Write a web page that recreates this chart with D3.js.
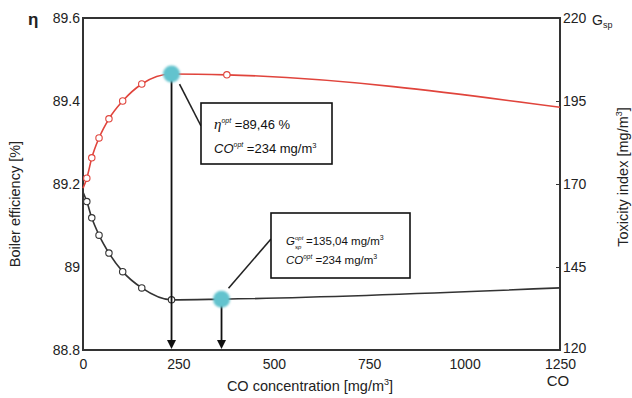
<!DOCTYPE html>
<html>
<head>
<meta charset="utf-8">
<script src="https://cdn.jsdelivr.net/npm/d3@7"></script>
<style>
    body { margin: 0; background: #fff; }
    svg { font-family: "Liberation Sans", Arial, sans-serif; }
    .tick text { font-size: 14px; fill: #222; }
    .note { fill: #111; }
</style>
</head>
<body>
<div id="chart"></div>
<script>
// boiler efficiency curve (left axis)
const coEta = [0, 10, 23, 42, 68, 104, 154, 232, 377, 1250];
const etaValues = [89.19, 89.214, 89.263, 89.311, 89.357, 89.40, 89.441, 89.465, 89.463, 89.385];
// toxicity index curve (right axis)
const coTox = [0, 10, 23, 42, 68, 104, 154, 232, 363, 1250];
const toxValues = [167.6, 164.7, 159.8, 154.6, 149.2, 143.6, 138.7, 135.1, 135.3, 138.7];
// which points get the small open markers / the big optimum marker
const etaMarkers = [1, 2, 3, 4, 5, 6, 8];
const toxMarkers = [1, 2, 3, 4, 5, 6, 7];
const etaOpt = 7;
const toxOpt = 8;

const xTicks = [0, 250, 500, 750, 1000, 1250];
const etaTicks = [88.8, 89, 89.2, 89.4, 89.6];
const toxTicks = [120, 145, 170, 195, 220];

const W = 632, H = 398;
const M = { left: 83, right: 560, top: 18, bottom: 350 };
const RED = '#e0443c';
const DARK = '#333';
const CYAN = '#62c3ce';

const svg = d3.select('#chart').append('svg')
    .attr('width', W).attr('height', H);

const defs = svg.append('defs');
defs.append('filter').attr('id', 'soft')
    .append('feGaussianBlur').attr('stdDeviation', 0.9);

const x = d3.scaleLinear().domain([0, 1250]).range([M.left, M.right]);
const yL = d3.scaleLinear().domain([88.8, 89.6]).range([M.bottom, M.top]);
const yR = d3.scaleLinear().domain([120, 220]).range([M.bottom, M.top]);

// axes
const gx = svg.append('g')
    .attr('transform', 'translate(0,' + M.bottom + ')')
    .call(d3.axisBottom(x).tickValues(xTicks).tickSize(0).tickPadding(9).tickFormat(d3.format('d')));
gx.select('.domain').remove();

const gl = svg.append('g')
    .attr('transform', 'translate(' + M.left + ',0)')
    .call(d3.axisLeft(yL).tickValues(etaTicks).tickSize(0).tickPadding(3)
        .tickFormat(d => d === 89 ? '89' : d3.format('.1f')(d)));
gl.select('.domain').remove();

const gr = svg.append('g')
    .attr('transform', 'translate(' + M.right + ',0)')
    .call(d3.axisRight(yR).tickValues(toxTicks).tickSize(-4).tickPadding(4));
gr.select('.domain').remove();
gr.selectAll('line').attr('stroke', DARK);
gr.selectAll('text').attr('x', 3);
gr.selectAll('.tick').filter(d => d === 120).select('text').attr('dy', '0.2em');
gr.selectAll('.tick').filter(d => d === 220 || d === 120).select('line').remove();

// frame
svg.append('rect')
    .attr('x', M.left).attr('y', M.top)
    .attr('width', M.right - M.left).attr('height', M.bottom - M.top)
    .attr('fill', 'none').attr('stroke', DARK).attr('stroke-width', 2);

// axis titles
svg.append('text').attr('x', 28).attr('y', 25)
    .attr('font-size', 17).attr('font-weight', 'bold').attr('fill', '#222').text('η');
const gsp = svg.append('text').attr('x', 592).attr('y', 25).attr('font-size', 14).attr('fill', '#222');
gsp.append('tspan').text('G');
gsp.append('tspan').attr('font-size', 9).attr('dy', 3).text('sp');

svg.append('text').attr('x', 558).attr('y', 386)
    .attr('text-anchor', 'middle').attr('font-size', 15).attr('fill', '#222').text('CO');

const xl = svg.append('text').attr('x', 310).attr('y', 391)
    .attr('text-anchor', 'middle').attr('font-size', 14.5).attr('fill', '#222');
xl.append('tspan').text('CO concentration [mg/m');
xl.append('tspan').attr('font-size', 9).attr('dy', -6).text('3');
xl.append('tspan').attr('dy', 6).text(']');

svg.append('text')
    .attr('transform', 'translate(20,204) rotate(-90)')
    .attr('text-anchor', 'middle').attr('font-size', 14.5).attr('fill', '#222')
    .text('Boiler efficiency [%]');

const yr = svg.append('text')
    .attr('transform', 'translate(628,177) rotate(-90)')
    .attr('text-anchor', 'middle').attr('font-size', 14.5).attr('fill', '#222');
yr.append('tspan').text('Toxicity index [mg/m');
yr.append('tspan').attr('font-size', 9).attr('dy', -6).text('3');
yr.append('tspan').attr('dy', 6).text(']');

// curves
const etaData = coEta.map((c, i) => ({ co: c, v: etaValues[i] }));
const toxData = coTox.map((c, i) => ({ co: c, v: toxValues[i] }));

svg.append('path').datum(etaData)
    .attr('fill', 'none').attr('stroke', RED).attr('stroke-width', 1.6)
    .attr('d', d3.line().x(d => x(d.co)).y(d => yL(d.v)).curve(d3.curveMonotoneX));

svg.append('path').datum(toxData)
    .attr('fill', 'none').attr('stroke', DARK).attr('stroke-width', 1.6)
    .attr('d', d3.line().x(d => x(d.co)).y(d => yR(d.v)).curve(d3.curveMonotoneX));

svg.append('g').selectAll('circle')
    .data(etaMarkers.map(i => etaData[i]))
    .join('circle')
        .attr('cx', d => x(d.co)).attr('cy', d => yL(d.v)).attr('r', 3.2)
        .attr('fill', '#fff').attr('stroke', RED).attr('stroke-width', 1.1);

svg.append('g').selectAll('circle')
    .data(toxMarkers.map(i => toxData[i]))
    .join('circle')
        .attr('cx', d => x(d.co)).attr('cy', d => yR(d.v)).attr('r', 3.2)
        .attr('fill', '#fff').attr('stroke', DARK).attr('stroke-width', 1.1);

// optimum drop lines with arrow heads
const opts = [
    { px: x(etaData[etaOpt].co), py: yL(etaData[etaOpt].v) },
    { px: x(toxData[toxOpt].co), py: yR(toxData[toxOpt].v) }
];
opts.forEach(o => {
    svg.append('line')
        .attr('x1', o.px).attr('x2', o.px).attr('y1', o.py).attr('y2', M.bottom - 8)
        .attr('stroke', '#111').attr('stroke-width', 1.8);
    svg.append('path')
        .attr('d', 'M' + (o.px - 4.5) + ',' + (M.bottom - 10) + 'L' + (o.px + 4.5) + ',' + (M.bottom - 10) + 'L' + o.px + ',' + (M.bottom - 1) + 'Z')
        .attr('fill', '#111');
});

// callout boxes
function box(x0, y0, w, h) {
    svg.append('rect').attr('x', x0).attr('y', y0).attr('width', w).attr('height', h)
        .attr('fill', '#fff').attr('stroke', '#111').attr('stroke-width', 1.6);
}
svg.append('line').attr('x1', opts[0].px + 8).attr('y1', opts[0].py + 10)
    .attr('x2', 201).attr('y2', 126).attr('stroke', '#222').attr('stroke-width', 1.6);
box(201, 103, 131, 61);

let t = svg.append('text').attr('class', 'note').attr('x', 214).attr('y', 129).attr('font-size', 13);
t.append('tspan').attr('font-family', 'Liberation Serif').attr('font-style', 'italic').attr('font-size', 15).text('η');
t.append('tspan').attr('font-style', 'italic').attr('font-size', 7).attr('dy', -6).text('opt');
t.append('tspan').attr('dy', 6).text(' =89,46 %');

t = svg.append('text').attr('class', 'note').attr('x', 214).attr('y', 153).attr('font-size', 13);
t.append('tspan').attr('font-style', 'italic').text('CO');
t.append('tspan').attr('font-style', 'italic').attr('font-size', 7).attr('dy', -6).text('opt');
t.append('tspan').attr('dy', 6).text(' =234 mg/m');
t.append('tspan').attr('font-size', 7.5).attr('dy', -5).text('3');

svg.append('line').attr('x1', opts[1].px + 7).attr('y1', opts[1].py - 11)
    .attr('x2', 271).attr('y2', 239).attr('stroke', '#222').attr('stroke-width', 1.6);
box(271, 213, 139, 65);

// G with stacked opt / sp indices
svg.append('text').attr('class', 'note').attr('x', 286).attr('y', 245).attr('font-size', 11.5)
    .attr('font-style', 'italic').text('G');
svg.append('text').attr('class', 'note').attr('x', 295).attr('y', 240).attr('font-size', 6)
    .attr('font-style', 'italic').text('opt');
svg.append('text').attr('class', 'note').attr('x', 295).attr('y', 249).attr('font-size', 6)
    .attr('font-style', 'italic').text('sp');
t = svg.append('text').attr('class', 'note').attr('x', 306).attr('y', 245).attr('font-size', 11.5);
t.append('tspan').text('=135,04 mg/m');
t.append('tspan').attr('font-size', 7).attr('dy', -5).text('3');

t = svg.append('text').attr('class', 'note').attr('x', 286).attr('y', 264).attr('font-size', 11.5);
t.append('tspan').attr('font-style', 'italic').text('CO');
t.append('tspan').attr('font-style', 'italic').attr('font-size', 6.5).attr('dy', -5).text('opt');
t.append('tspan').attr('dy', 5).text(' =234 mg/m');
t.append('tspan').attr('font-size', 7).attr('dy', -5).text('3');

// big optimum markers on top
svg.append('g').selectAll('circle')
    .data(opts)
    .join('circle')
        .attr('cx', d => d.px).attr('cy', d => d.py).attr('r', 8.5)
        .attr('fill', CYAN).attr('filter', 'url(#soft)');
</script>
</body>
</html>
